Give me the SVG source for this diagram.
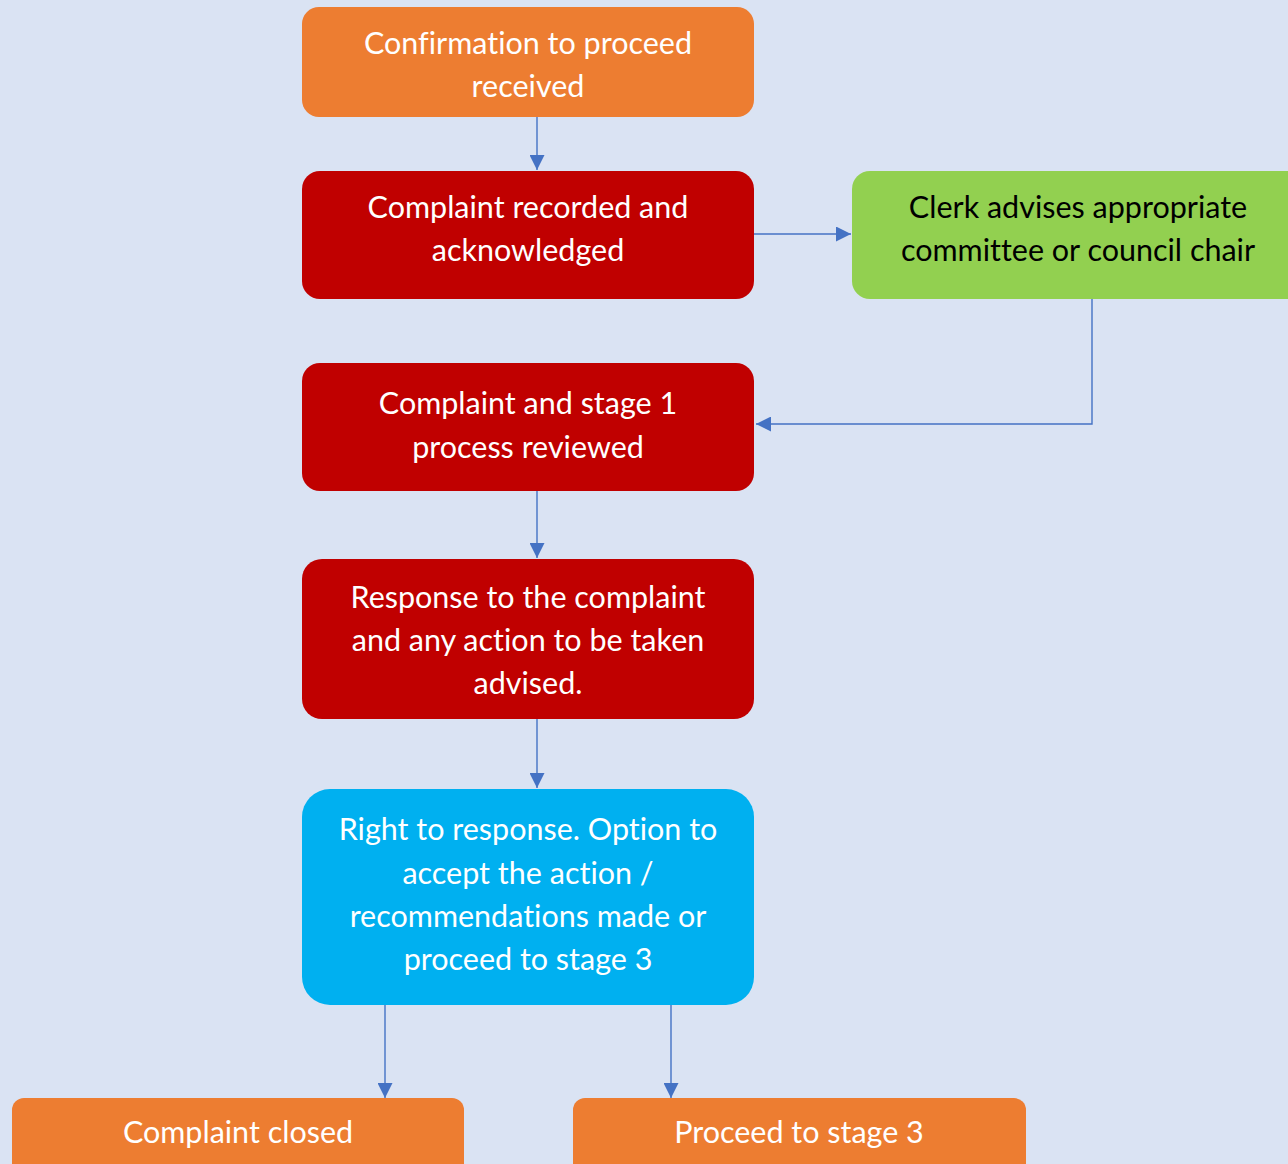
<svg xmlns="http://www.w3.org/2000/svg" width="1288" height="1164" viewBox="0 0 1288 1164">
<defs>
<style>
.box{stroke:none}
.t{font-family:Lato,"Liberation Sans",sans-serif;font-size:30.5px;fill:#fff;text-anchor:middle;font-variant-ligatures:none}
.tk{fill:#000}
.c{fill:none;stroke:#4472C4;stroke-width:1.4}
</style>
<marker id="ah" viewBox="0 0 10 10" refX="10" refY="5" markerWidth="15" markerHeight="15" markerUnits="userSpaceOnUse" orient="auto">
<path d="M0,0 L10,5 L0,10 z" fill="#4472C4"/>
</marker>
</defs>
<rect width="1288" height="1164" fill="#DAE3F3"/>
<g id="connectors">
<path class="c" d="M537,117 V170" marker-end="url(#ah)"/>
<path class="c" d="M754,234 H851" marker-end="url(#ah)"/>
<path class="c" d="M1092,299 V424 H756" marker-end="url(#ah)"/>
<path class="c" d="M537,491 V558" marker-end="url(#ah)"/>
<path class="c" d="M537,719 V788" marker-end="url(#ah)"/>
<path class="c" d="M385,1005 V1098" marker-end="url(#ah)"/>
<path class="c" d="M671,1005 V1098" marker-end="url(#ah)"/>
</g>
<g id="n1">
<rect class="box" x="302" y="7" width="452" height="110" rx="17" fill="#ED7D31"/>
<text class="t" x="528" y="54">Confirmation to proceed</text>
<text class="t" x="528" y="97">received</text>
</g>
<g id="n2">
<rect class="box" x="302" y="171" width="452" height="128" rx="18" fill="#C00000"/>
<text class="t" x="528" y="218">Complaint recorded and</text>
<text class="t" x="528" y="261">acknowledged</text>
</g>
<g id="n3">
<rect class="box" x="852" y="171" width="452" height="128" rx="18" fill="#92D050"/>
<text class="t tk" x="1078" y="218">Clerk advises appropriate</text>
<text class="t tk" x="1078" y="261">committee or council chair</text>
</g>
<g id="n4">
<rect class="box" x="302" y="363" width="452" height="128" rx="18" fill="#C00000"/>
<text class="t" x="528" y="414">Complaint and stage 1</text>
<text class="t" x="528" y="458">process reviewed</text>
</g>
<g id="n5">
<rect class="box" x="302" y="559" width="452" height="160" rx="20" fill="#C00000"/>
<text class="t" x="528" y="608">Response to the complaint</text>
<text class="t" x="528" y="651">and any action to be taken</text>
<text class="t" x="528" y="694">advised.</text>
</g>
<g id="n6">
<rect class="box" x="302" y="789" width="452" height="216" rx="28" fill="#00B0F0"/>
<text class="t" x="528" y="840">Right to response. Option to</text>
<text class="t" x="528" y="884">accept the action /</text>
<text class="t" x="528" y="927">recommendations made or</text>
<text class="t" x="528" y="970">proceed to stage 3</text>
</g>
<g id="n7">
<rect class="box" x="12" y="1098" width="452" height="80" rx="12" fill="#ED7D31"/>
<text class="t" x="238" y="1143">Complaint closed</text>
</g>
<g id="n8">
<rect class="box" x="573" y="1098" width="453" height="80" rx="12" fill="#ED7D31"/>
<text class="t" x="799" y="1143">Proceed to stage 3</text>
</g>
</svg>
